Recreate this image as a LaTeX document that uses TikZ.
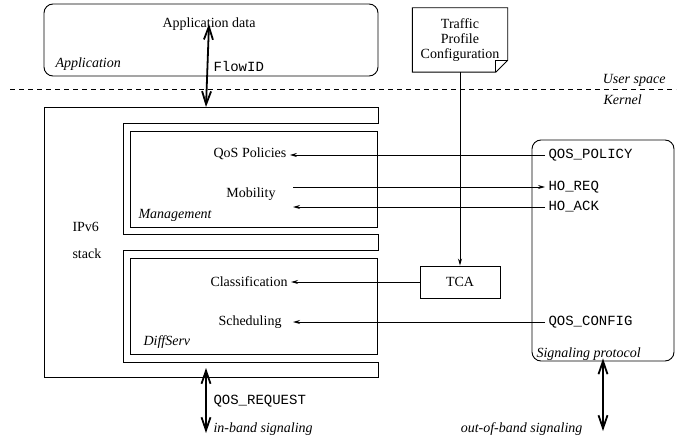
\documentclass[tikz,border=0pt]{standalone}
\usepackage{fontspec}
\setmainfont{Liberation Serif}
\setmonofont{Liberation Mono}
\usetikzlibrary{arrows.meta}
\begin{document}
\begin{tikzpicture}[x=1pt,y=-1pt,
    every node/.style={font=\fontsize{14}{16}\selectfont},
    box/.style={draw,line width=0.9pt,inner sep=0pt},
    rbox/.style={box,rounded corners=9pt},
    lbl/.style={font=\fontsize{14}{16}\selectfont\itshape},
    msg/.style={font=\fontsize{14}{16}\selectfont\ttfamily,anchor=west},
    thin arrow/.style={line width=0.9pt,-{Stealth[length=7pt,width=4pt]}},
    thick arrow/.style={line width=1.8pt,{Straight Barb[length=13pt,width=9pt]}-{Straight Barb[length=13pt,width=9pt]}}]
  \useasboundingbox (0,0) rectangle (688,441);

  % user space
  \node[rbox,minimum width=334,minimum height=72] (app) at (211,40) {};
  \node (appdata) at (209,24) {Application data};
  \node[lbl,anchor=west] (applbl) at (52,64) {Application};
  \node[msg] (flowid) at (210,66) {FlowID};
  \node[align=center,minimum width=95,minimum height=64,inner sep=0pt] (tpc) at (460,40)
    {Traffic\\[-1pt]Profile\\[-1pt]Configuration};
  \draw[line width=0.9pt] (tpc.north west) -- (tpc.north east) -- ([yshift=12]tpc.south east)
    -- ([xshift=-12]tpc.south east) -- (tpc.south west) -- cycle;
  \draw[line width=0.6pt] ([xshift=-12]tpc.south east) -- ([xshift=-12,yshift=12]tpc.south east)
    -- ([yshift=12]tpc.south east);

  % border
  \coordinate (us1) at (10,89);
  \coordinate (us2) at (676,89);
  \draw[dashed,line width=0.9pt,dash pattern=on 5pt off 4pt] (us1) -- (us2);
  \node[lbl,anchor=east] (uspace) at (669,80) {User space};
  \node[lbl,anchor=west] (kernel) at (600,100) {Kernel};

  % IPv6 stack
  \draw[line width=0.9pt] (44,107) -- (378,107) -- (378,123) -- (123,123) -- (123,234)
    -- (378,234) -- (378,250) -- (123,250) -- (123,362) -- (378,362) -- (378,377)
    -- (44,377) -- cycle;
  \coordinate (stacktop) at (206,107);
  \coordinate (stackbot) at (206,368);
  \node[anchor=west] (ipv6) at (69,227) {IPv6};
  \node[anchor=west] (stack) at (69,254) {stack};

  \node[box,minimum width=247,minimum height=96] (mgmt) at (253.5,179) {};
  \node[lbl,anchor=west] (mgmtlbl) at (135,215) {Management};
  \node (qos) at (250,154) {QoS Policies};
  \node (mob) at (251,194) {Mobility};
  \coordinate (mobout) at (293,187);
  \coordinate (mobin) at (293,207);

  \node[box,minimum width=247,minimum height=96] (diffserv) at (253.5,306) {};
  \node[lbl,anchor=west] (dslbl) at (140,342) {DiffServ};
  \node (class) at (249,282) {Classification};
  \node (sched) at (250,322) {Scheduling};
  \coordinate (schedin) at (293,322);

  \node[box,minimum width=80,minimum height=32] (tca) at (460,282) {TCA};

  % signaling protocol
  \node[rbox,minimum width=142,minimum height=221] (sig) at (603,250.5) {};
  \node[lbl,anchor=west] (siglbl) at (533,354) {Signaling protocol};
  \node[msg] (qospol) at (545,155) {QOS\_POLICY};
  \node[msg] (horeq) at (545,187) {HO\_REQ};
  \node[msg] (hoack) at (545,207) {HO\_ACK};
  \node[msg] (qoscfg) at (545,322) {QOS\_CONFIG};

  % signaling ends
  \coordinate (inband) at (206,433);
  \coordinate (oob) at (603,431);
  \node[msg] (qosreq) at (210,401) {QOS\_REQUEST};
  \node[lbl,anchor=west] (inlbl) at (210,429) {in-band signaling};
  \node[lbl,anchor=east] (ooblbl) at (586,429) {out-of-band signaling};

  \begin{scope}[thin arrow]
    \draw (qospol.west) -- (qospol.west -| qos.east);
    \draw (mobout) -- (horeq.west);
    \draw (hoack.west) -- (mobin);
    \draw (tca.west) -- (class.east);
    \draw (qoscfg.west) -- (schedin);
    \draw (tpc.south) -- (tca.north);
  \end{scope}
  \begin{scope}[thick arrow]
    \draw ([yshift=10]appdata.south) -- (stacktop);
    \draw (stackbot) -- (inband);
    \draw ([yshift=3]sig.south) -- (oob);
  \end{scope}
\end{tikzpicture}
\end{document}
